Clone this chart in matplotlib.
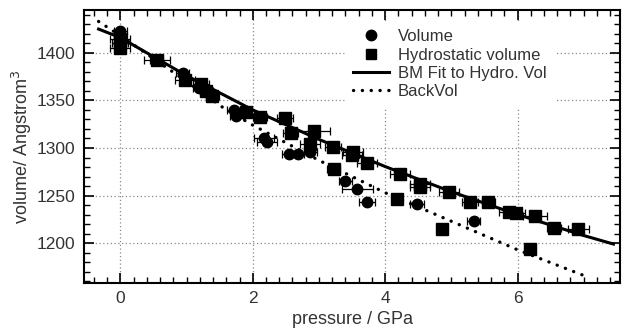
import matplotlib
matplotlib.use("Agg")
import matplotlib.pyplot as plt
from matplotlib.ticker import MultipleLocator
from matplotlib.lines import Line2D
from matplotlib import font_manager

# ---- data ----
vol_p = [0.0, 0.0, 0.55, 0.94, 1.19, 1.71, 1.75, 2.17, 2.22, 2.54, 2.68, 2.87, 3.40, 3.58, 3.72, 4.48, 5.34]
vol_v = [1423, 1418, 1392, 1379, 1363, 1340, 1334, 1310, 1306, 1294, 1294, 1296, 1265, 1257, 1243, 1241, 1223]
vol_err = [0.10, 0.10, 0.10, 0.10, 0.10, 0.10, 0.10, 0.15, 0.15, 0.10, 0.10, 0.10, 0.10, 0.23, 0.12, 0.10, 0.10]

hyd_p = [0.0, 0.0, 0.0, 0.55, 0.97, 1.22, 1.30, 1.39, 1.89, 2.11, 2.49, 2.57, 2.92, 2.87, 3.21, 3.22,
         3.50, 3.52, 3.73, 4.18, 4.23, 4.53, 4.53, 4.86, 4.96, 5.28, 5.56, 5.87, 5.97, 6.19, 6.27, 6.55, 6.92]
hyd_v = [1415, 1410, 1405, 1392, 1371, 1367, 1360, 1355, 1338, 1333, 1331, 1316, 1318, 1304, 1301, 1278,
         1293, 1296, 1284, 1246, 1273, 1262, 1259, 1215, 1254, 1243, 1243, 1233, 1232, 1194, 1228, 1216, 1215]
hyd_err = [0.15, 0.12, 0.15, 0.20, 0.15, 0.12, 0.10, 0.10, 0.10, 0.10, 0.12, 0.12, 0.25, 0.15, 0.12, 0.10,
           0.15, 0.15, 0.15, 0.08, 0.15, 0.15, 0.15, 0.08, 0.15, 0.12, 0.10, 0.15, 0.15, 0.08, 0.18, 0.10, 0.16]

bm_p = [-0.33, 0.0, 1.0, 2.0, 3.0, 4.0, 5.0, 6.0, 7.0, 7.45]
bm_v = [1425, 1416, 1376, 1340, 1309, 1280.5, 1254, 1230, 1208, 1199]

back_p = [-0.33, 0.0, 1.0, 1.56, 2.0, 3.0, 4.0, 5.0, 6.0, 7.0]
back_v = [1433, 1418, 1370, 1342, 1324, 1287, 1253, 1223, 1193, 1166]

x_ticks = [0, 2, 4, 6]
y_ticks = [1200, 1250, 1300, 1350, 1400]
legend_labels = ['Volume', 'Hydrostatic volume', 'BM Fit to Hydro. Vol', 'BackVol']

# ---- fonts ----
avail = {f.name for f in font_manager.fontManager.ttflist}
fam = 'Liberation Sans Narrow' if 'Liberation Sans Narrow' in avail else 'Liberation Sans'
plt.rcParams['font.family'] = [fam, 'DejaVu Sans']
txt_color = '#333333'
dot_style = (0, (0.05, 2.6))

fig = plt.figure(figsize=(6.27, 3.35), dpi=100)
ax = fig.add_axes([0.134, 0.155, 0.855, 0.815])

ax.grid(True, which='major', linestyle=(0, (1.0, 2.0)), color='#8a8a8a', linewidth=0.9)
ax.set_axisbelow(True)

ax.errorbar(vol_p, vol_v, xerr=vol_err, fmt='o', color='black', ms=7.5,
            ecolor='black', elinewidth=0.9, capsize=3, capthick=0.9, zorder=3)
ax.errorbar(hyd_p, hyd_v, xerr=hyd_err, fmt='s', color='black', ms=8,
            ecolor='black', elinewidth=0.9, capsize=3, capthick=0.9, zorder=3)
ax.plot(bm_p, bm_v, '-', color='black', lw=2.2, zorder=4)
ax.plot(back_p, back_v, color='black', lw=2.4, linestyle=dot_style,
        dash_capstyle='round', zorder=4)

ax.set_xlim(-0.55, 7.55)
ax.set_ylim(1158, 1445)
ax.set_xticks(x_ticks)
ax.set_yticks(y_ticks)
ax.xaxis.set_minor_locator(MultipleLocator(0.2))
ax.yaxis.set_minor_locator(MultipleLocator(10))
ax.tick_params(which='both', direction='in', top=True, right=True, colors='black',
               labelcolor=txt_color, labelsize=12.5)
ax.tick_params(which='major', length=7, width=1.2, pad=6)
ax.tick_params(which='minor', length=4, width=1.0)
for s in ax.spines.values():
    s.set_linewidth(1.5)

ax.set_xlabel('pressure / GPa', fontsize=13, color=txt_color, labelpad=3)
ax.set_ylabel('volume/ Angstrom$^3$', fontsize=13, color=txt_color)
ax.yaxis.set_label_coords(-0.093, 0.5)

handles = [
    Line2D([], [], marker='o', ls='none', color='black', ms=7.5),
    Line2D([], [], marker='s', ls='none', color='black', ms=7),
    Line2D([], [], ls='-', color='black', lw=2.2),
    Line2D([], [], ls=dot_style, color='black', lw=2.4, dash_capstyle='round'),
]
leg = ax.legend(handles, legend_labels, loc='upper left', bbox_to_anchor=(0.487, 0.957),
                fontsize=12, frameon=True, framealpha=1, edgecolor='white', fancybox=False,
                handlelength=2.2, labelspacing=0.2, borderpad=0.45, handletextpad=0.5,
                borderaxespad=0)
for t in leg.get_texts():
    t.set_color(txt_color)

fig.savefig('out.png', dpi=100)
